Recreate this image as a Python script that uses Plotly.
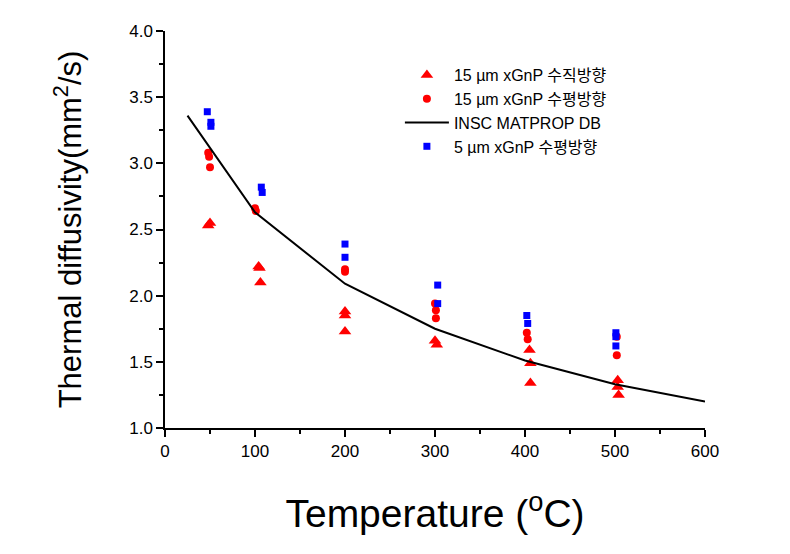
import plotly.graph_objects as go

# 15 um xGnP vertical (triangles)
tri_x = [48, 50, 104, 105, 106, 200, 200, 200, 300, 302, 405, 406, 406, 503, 503, 504]
tri_y = [2.53, 2.55, 2.22, 2.21, 2.10, 1.88, 1.85, 1.73, 1.66, 1.63, 1.59, 1.49, 1.34, 1.36, 1.31, 1.25]

# 15 um xGnP horizontal (circles)
cir_x = [48, 49, 50, 100, 101, 200, 200, 300, 301, 301, 402, 403, 502, 502]
cir_y = [3.08, 3.05, 2.97, 2.66, 2.64, 2.20, 2.18, 1.94, 1.89, 1.83, 1.72, 1.67, 1.69, 1.55]

# INSC MATPROP DB (line)
db_x = [25, 100, 200, 300, 400, 500, 600]
db_y = [3.36, 2.63, 2.09, 1.75, 1.51, 1.33, 1.20]

# 5 um xGnP horizontal (squares)
sq_x = [47, 51, 51, 107, 108, 200, 200, 303, 303, 402, 403, 501, 501, 501]
sq_y = [3.39, 3.31, 3.28, 2.82, 2.78, 2.39, 2.29, 2.08, 1.94, 1.85, 1.79, 1.72, 1.69, 1.62]

FONT = "Liberation Sans, Arial, Noto Sans CJK KR, sans-serif"

fig = go.Figure()
fig.add_trace(go.Scatter(x=tri_x, y=tri_y, mode="markers", name="15 µm xGnP 수직방향",
                         marker=dict(symbol="triangle-up", size=11, color="#ff0000")))
fig.add_trace(go.Scatter(x=cir_x, y=cir_y, mode="markers", name="15 µm xGnP 수평방향",
                         marker=dict(symbol="circle", size=8, color="#ff0000")))
fig.add_trace(go.Scatter(x=db_x, y=db_y, mode="lines", name="INSC MATPROP DB",
                         line=dict(color="black", width=2)))
fig.add_trace(go.Scatter(x=sq_x, y=sq_y, mode="markers", name="5 µm xGnP 수평방향",
                         marker=dict(symbol="square", size=7, color="#0000ff")))

fig.update_layout(
    width=790, height=554,
    margin=dict(l=157, r=93, t=23, b=134),
    paper_bgcolor="white", plot_bgcolor="white",
    font=dict(family=FONT, color="black"),
    showlegend=True,
    legend=dict(x=0.435, y=0.932, xanchor="left", yanchor="top",
                font=dict(size=16, family=FONT), bgcolor="rgba(0,0,0,0)",
                tracegroupgap=0, itemsizing="trace", itemwidth=44),
    xaxis=dict(range=[0, 600], tickmode="linear", tick0=0, dtick=100,
               showline=True, linecolor="black", linewidth=1.5, mirror=False,
               ticks="outside", ticklen=7, tickwidth=1.5, tickcolor="black",
               minor=dict(ticks="outside", ticklen=4, dtick=50, tickcolor="black", tickwidth=1.5),
               showgrid=False, zeroline=False,
               tickfont=dict(size=17),
               title=dict(text="Temperature (<sup>o</sup>C)", font=dict(size=39), standoff=40)),
    yaxis=dict(range=[1, 4], tickmode="linear", tick0=1, dtick=0.5, tickformat=".1f",
               showline=True, linecolor="black", linewidth=1.5, mirror=False,
               ticks="outside", ticklen=7, tickwidth=1.5, tickcolor="black",
               minor=dict(ticks="outside", ticklen=4, dtick=0.25, tickcolor="black", tickwidth=1.5),
               showgrid=False, zeroline=False,
               tickfont=dict(size=17),
               title=dict(text="Thermal diffusivity(mm<sup>2</sup>/s)", font=dict(size=31), standoff=38)),
)

fig.write_html("out.html")
